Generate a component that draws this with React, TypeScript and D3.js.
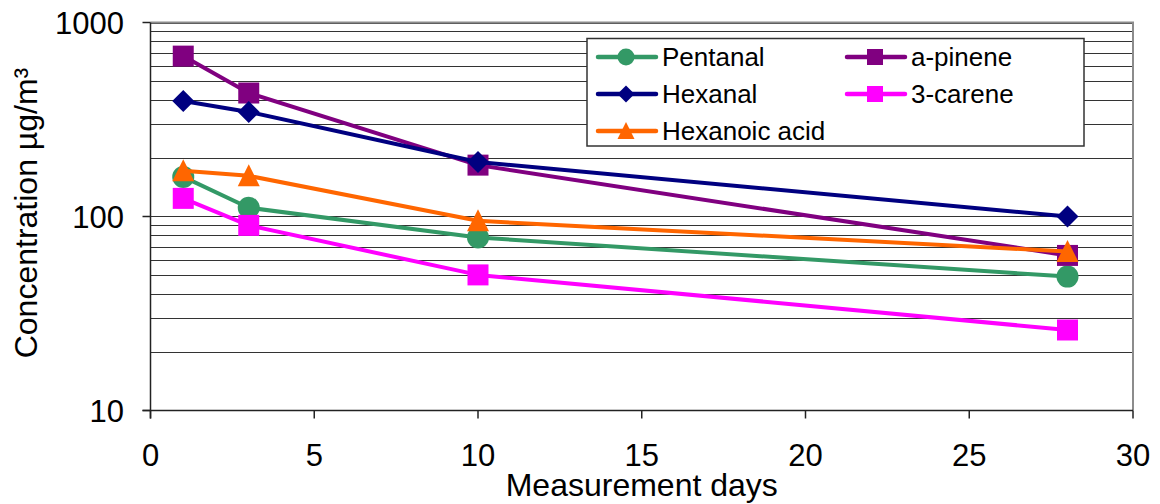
import { useEffect, useRef } from "react"
import * as d3 from "d3"

const days = [1, 3, 10, 28]
const pentanal = [160, 111, 78, 49]
const hexanal = [394, 346, 191, 100]
const hexanoicAcid = [172, 162, 95, 66]
const aPinene = [671, 433, 184, 63]
const carene = [124, 90, 50, 26]

const xTicks = [0, 5, 10, 15, 20, 25, 30]
const yTicks = [10, 100, 1000]

// drawing order follows the original series order
const series = [
  { name: "Pentanal", values: pentanal, color: "#339966", marker: "circle" },
  { name: "a-pinene", values: aPinene, color: "#800080", marker: "square" },
  { name: "Hexanal", values: hexanal, color: "#000080", marker: "diamond" },
  { name: "3-carene", values: carene, color: "#FF00FF", marker: "square" },
  { name: "Hexanoic acid", values: hexanoicAcid, color: "#FF6600", marker: "triangle" },
]

const legendOrder = [
  ["Pentanal", "Hexanal", "Hexanoic acid"],
  ["a-pinene", "3-carene"],
]

const W = 1160
const H = 504
const FONT = "'Liberation Sans', Arial, sans-serif"

function markerPath(type: string, r: number) {
  if (type === "circle") {
    return `M${-r},0A${r},${r} 0 1,0 ${r},0A${r},${r} 0 1,0 ${-r},0Z`
  }
  if (type === "square") {
    return `M${-r},${-r}H${r}V${r}H${-r}Z`
  }
  if (type === "diamond") {
    return `M0,${-r}L${r},0L0,${r}L${-r},0Z`
  }
  // triangle
  return `M0,${-r * 1.05}L${r},${r * 0.95}L${-r},${r * 0.95}Z`
}

const App = () => {
  const svgRef = useRef<SVGSVGElement>(null)

  useEffect(() => {
    const svg = d3.select(svgRef.current)
    svg.selectAll("*").remove()

    const left = 150.5
    const right = 1133
    const top = 22.5
    const bottom = 410.5

    const x = d3.scaleLinear().domain([0, 30]).range([left, right])
    const y = d3.scaleLog().domain([10, 1000]).range([bottom, top])

    svg.append("rect").attr("width", W).attr("height", H).attr("fill", "white")

    // gridlines at every log tick
    const gridValues = y.ticks().filter((v) => v > 10)
    svg
      .append("g")
      .selectAll("line")
      .data(gridValues)
      .join("line")
      .attr("x1", left)
      .attr("x2", right)
      .attr("y1", (d) => Math.round(y(d)) + 0.5)
      .attr("y2", (d) => Math.round(y(d)) + 0.5)
      .attr("stroke", "#333")
      .attr("stroke-width", 1)

    // plot frame: grey top/right
    svg
      .append("path")
      .attr("d", `M${left},${top}H${right}V${bottom}`)
      .attr("fill", "none")
      .attr("stroke", "#8c8c8c")
      .attr("stroke-width", 2)

    // axes
    const axes = svg.append("g").attr("stroke", "#222").attr("stroke-width", 1.5)
    axes.append("line").attr("x1", left).attr("x2", left).attr("y1", top).attr("y2", bottom + 8)
    axes.append("line").attr("x1", left - 8).attr("x2", right).attr("y1", bottom).attr("y2", bottom)
    axes
      .selectAll(".yt")
      .data(yTicks)
      .join("line")
      .attr("x1", left - 8)
      .attr("x2", left)
      .attr("y1", (d) => y(d))
      .attr("y2", (d) => y(d))
    axes
      .selectAll(".xt")
      .data(xTicks)
      .join("line")
      .attr("x1", (d) => x(d))
      .attr("x2", (d) => x(d))
      .attr("y1", bottom)
      .attr("y2", bottom + 8)

    svg
      .append("g")
      .selectAll("text")
      .data(yTicks)
      .join("text")
      .attr("x", 124)
      .attr("y", (d) => y(d))
      .attr("dy", "0.36em")
      .attr("text-anchor", "end")
      .style("font-family", FONT)
      .style("font-size", "31px")
      .text((d) => d)

    svg
      .append("g")
      .selectAll("text")
      .data(xTicks)
      .join("text")
      .attr("x", (d) => x(d))
      .attr("y", 466)
      .attr("text-anchor", "middle")
      .style("font-family", FONT)
      .style("font-size", "31px")
      .text((d) => d)

    svg
      .append("text")
      .attr("x", (left + right) / 2)
      .attr("y", 496)
      .attr("text-anchor", "middle")
      .style("font-family", FONT)
      .style("font-size", "32px")
      .text("Measurement days")

    svg
      .append("text")
      .attr("transform", `translate(37,213) rotate(-90)`)
      .attr("text-anchor", "middle")
      .style("font-family", FONT)
      .style("font-size", "32px")
      .text("Concentration µg/m³")

    // series
    series.forEach((s) => {
      const pts = days.map((d, i) => [x(d), y(s.values[i])] as [number, number])
      const g = svg.append("g")
      g.append("path")
        .attr("d", d3.line()(pts))
        .attr("fill", "none")
        .attr("stroke", s.color)
        .attr("stroke-width", 4)
        .attr("stroke-linejoin", "round")
      g.selectAll("path.m")
        .data(pts)
        .join("path")
        .attr("class", "m")
        .attr("transform", (p) => `translate(${p[0]},${p[1]})`)
        .attr("d", markerPath(s.marker, s.marker === "square" ? 10.5 : 11))
        .attr("fill", s.color)
    })

    // legend
    const legend = svg.append("g")
    legend
      .append("rect")
      .attr("x", 587)
      .attr("y", 38.5)
      .attr("width", 497)
      .attr("height", 107.5)
      .attr("fill", "white")
      .attr("stroke", "#333")
      .attr("stroke-width", 1.5)

    const colX = [598, 847]
    const rowY = [57, 94, 131]
    legendOrder.forEach((col, ci) => {
      col.forEach((name, ri) => {
        const s = series.find((t) => t.name === name)!
        const gx = colX[ci]
        const gy = rowY[ri]
        legend
          .append("line")
          .attr("x1", gx)
          .attr("x2", gx + 58)
          .attr("y1", gy)
          .attr("y2", gy)
          .attr("stroke", s.color)
          .attr("stroke-width", 4.5)
          .attr("stroke-linecap", "round")
        legend
          .append("path")
          .attr("transform", `translate(${gx + 28},${gy})`)
          .attr("d", markerPath(s.marker, s.marker === "square" ? 8 : 8.5))
          .attr("fill", s.color)
        legend
          .append("text")
          .attr("x", gx + 64)
          .attr("y", gy)
          .attr("dy", "0.36em")
          .style("font-family", FONT)
          .style("font-size", "26px")
          .text(name)
      })
    })
  }, [])

  return (
    <svg
      ref={svgRef}
      width={W}
      height={H}
      style={{ position: "absolute", left: 0, top: 0, display: "block" }}
    ></svg>
  )
}

export default App
